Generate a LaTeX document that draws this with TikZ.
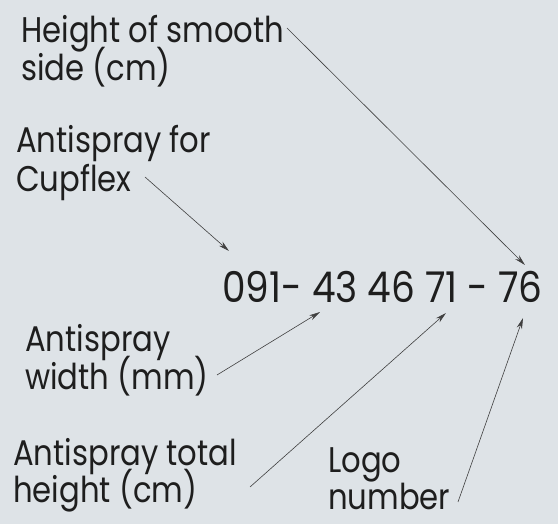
\documentclass[tikz,border=0pt]{standalone}
\usepackage{fontspec}
\setmainfont{Poppins}
\usetikzlibrary{arrows.meta}
\definecolor{bgc}{RGB}{222,227,231}
\definecolor{ink}{RGB}{30,30,30}
\newcommand{\tallA}[1]{\scalebox{0.99}[1.15]{#1}}
\newcommand{\tallB}[1]{\scalebox{1}[1.13]{#1}}
\begin{document}
\begin{tikzpicture}[x=1pt,y=-1pt,
  lbl/.style={anchor=base west,inner sep=0pt,text=ink,font=\fontsize{31}{38}\selectfont},
  lbltwo/.style={anchor=north west,inner sep=0pt,text=ink,align=left,text depth=0pt,font=\fontsize{31}{34}\selectfont},
  code/.style={anchor=base west,inner sep=0pt,text=ink,font=\fontsize{37.5}{44}\selectfont},
  leader/.style={draw=ink!85,line width=0.6pt,-{Stealth[length=11pt,width=5.5pt]}}]
\fill[bgc] (0,0) rectangle (558,524);
\useasboundingbox (0,0) rectangle (558,524);
\node[lbl] (h1) at (21,43) {\tallA{Height of smooth}};
\node[lbl] (h2) at (21,81) {\tallA{side (cm)}};
\node[lbl] (c1) at (16,153) {\tallA{Antispray for}};
\node[lbl] (c2) at (16,192) {\tallA{Cupflex}};
\node[code] (num) at (222,303) {\tallB{091- 43 46 71 - 76}};
\node[lbl] (w1) at (25,352) {\tallA{Antispray}};
\node[lbl] (w2) at (25,390) {\tallA{width (mm)}};
\node[lbl] (t1) at (13,465) {\tallA{Antispray total}};
\node[lbl] (t2) at (13,502) {\tallA{height (cm)}};
\node[lbltwo] (logo) at (328,447) {\tallA{Logo}\\\tallA{number}};
\coordinate (sA) at (287,28);  \coordinate (eA) at (525,265);
\coordinate (sB) at (145,177); \coordinate (eB) at (229,251);
\coordinate (sC) at (217,375); \coordinate (eC) at (320,312);
\coordinate (sD) at (250,487); \coordinate (eD) at (446,313);
\coordinate (sE) at (458,502); \coordinate (eE) at (523,318);
\draw[leader] (sA) -- (eA);
\draw[leader] (sB) -- (eB);
\draw[leader] (sC) -- (eC);
\draw[leader] (sD) -- (eD);
\draw[leader] (sE) -- (eE);
\end{tikzpicture}
\end{document}
